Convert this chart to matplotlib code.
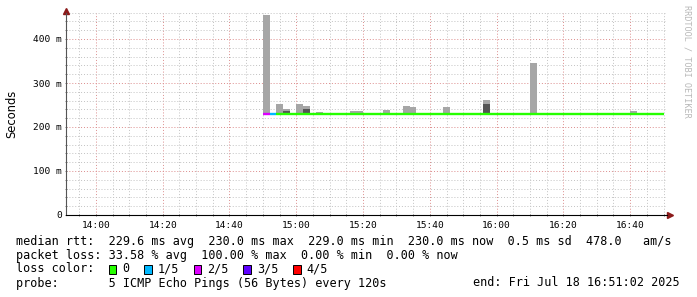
import matplotlib
matplotlib.use("Agg")
import matplotlib.pyplot as plt
import matplotlib.dates as mdates
from matplotlib.patches import Rectangle
import pandas as pd

# smokeping: 2 minute steps, 14:50 .. 16:50
times = pd.date_range("2025-07-18 14:50", periods=60, freq="2min")

median_ms = [230, 230, 230, 230, 230, 230, 230, 229, 229, 229,
             230, 230, 229, 230, 230, 230, 230, 229, 230, 229,
             229, 230, 230, 229, 230, 229, 230, 230, 229, 229,
             230, 230, 230, 230, 229, 229, 230, 229, 229, 229,
             230, 230, 229, 229, 230, 229, 230, 230, 229, 229,
             230, 229, 229, 230, 229, 230, 230, 230, 230, 230]

# lost pings out of 5
loss = [2, 1] + [0] * 58

# smoke (upper ping values) for the bins that have any above the median
smoke_max_ms = {0: 454, 2: 252, 3: 241, 5: 252, 6: 248, 8: 234, 13: 236, 14: 236,
                18: 238, 21: 248, 22: 245, 27: 245, 33: 261, 40: 345, 55: 236}
smoke_dark_ms = {3: 236, 6: 241, 33: 252}

loss_labels = ["0", "1/5", "2/5", "3/5", "4/5"]
loss_colors = ["#26ff00", "#00b8ff", "#dd00ff", "#5e00ff", "#ff0000"]

y_ticks = [0, 0.1, 0.2, 0.3, 0.4]
y_labels = ["0", "100 m", "200 m", "300 m", "400 m"]

legend_lines = [
    "median rtt:  229.6 ms avg  230.0 ms max  229.0 ms min  230.0 ms now  0.5 ms sd  478.0   am/s",
    "packet loss: 33.58 % avg  100.00 % max  0.00 % min  0.00 % now",
]
probe_text = "probe:       5 ICMP Echo Pings (56 Bytes) every 120s"
end_text = "end: Fri Jul 18 16:51:02 2025"

W, H = 697, 297
fig = plt.figure(figsize=(W / 100, H / 100), dpi=100)
ax = fig.add_axes([66 / W, (H - 215) / H, 601 / W, (215 - 12.6) / H])

step = pd.Timedelta("2min")
width = 2 / 1440

# smoke
for i, t in enumerate(times):
    m = median_ms[i] / 1000
    if i in smoke_max_ms:
        ax.bar(t, smoke_max_ms[i] / 1000 - m, bottom=m, width=width,
               align="edge", color="#a6a6a6", linewidth=0, zorder=3)
    if i in smoke_dark_ms:
        ax.bar(t, smoke_dark_ms[i] / 1000 - m, bottom=m, width=width,
               align="edge", color="#555555", linewidth=0, zorder=4)

# median line coloured by loss
ax.hlines([v / 1000 for v in median_ms], times, times + step,
          colors=[loss_colors[l] for l in loss], linewidth=1.7, zorder=5)

start = pd.Timestamp("2025-07-18 13:51:02")
end = pd.Timestamp("2025-07-18 16:51:02")
ax.set_xlim(start, end)
ax.set_ylim(0, 0.46)

ax.xaxis.set_major_locator(mdates.MinuteLocator(byminute=[0, 20, 40]))
ax.xaxis.set_minor_locator(mdates.MinuteLocator(byminute=range(0, 60, 5)))
ax.xaxis.set_major_formatter(mdates.DateFormatter("%H:%M"))
ax.set_yticks(y_ticks)
ax.set_yticklabels(y_labels)
ax.set_yticks([i * 0.02 for i in range(24)], minor=True)

ax.grid(which="minor", color="#c2c2c2", linestyle=(0, (1, 2)), linewidth=0.7)
ax.grid(which="major", color="#dc8c8c", linestyle=(0, (1, 2)), linewidth=0.7)
ax.set_axisbelow(True)

for lab in ax.get_xticklabels() + ax.get_yticklabels():
    lab.set_family("DejaVu Sans Mono")
    lab.set_fontsize(6.8)
ax.tick_params(which="both", length=2, width=0.6, direction="inout",
               colors="#666666", labelcolor="black", pad=2)
ax.tick_params(axis="x", which="major", pad=3)

for s in ["top", "right"]:
    ax.spines[s].set_visible(False)
ax.spines["left"].set_color("#555555")
ax.spines["left"].set_linewidth(0.8)
ax.spines["bottom"].set_color("black")
ax.spines["bottom"].set_linewidth(0.8)
ax.set_facecolor("white")

# axis arrows
ax.plot([1.005], [0], marker=">", markersize=4, color="#8b1a1a",
        transform=ax.transAxes, clip_on=False)
ax.plot([0], [1.01], marker="^", markersize=4, color="#8b1a1a",
        transform=ax.transAxes, clip_on=False)

ax.set_ylabel("Seconds", fontsize=8.3, labelpad=11)

fig.text(687 / W, 1 - 5 / H, "RRDTOOL / TOBI OETIKER", rotation=270,
         ha="center", va="top", family="DejaVu Sans Mono", fontsize=6.1,
         color="#b8b8b8")

# legend
cw = 7.09
x0 = 16
ys = [241, 255, 269, 283]
tk = dict(family="DejaVu Sans Mono", fontsize=8.45, va="center", ha="left")
for y, line in zip(ys[:2], legend_lines):
    fig.text(x0 / W, 1 - y / H, line, **tk)

fig.text(x0 / W, 1 - ys[2] / H, "loss color:", **tk)
box_cols = [13, 18, 25, 32, 39]
for c, lab, col in zip(box_cols, loss_labels, loss_colors):
    bx = x0 + c * cw + 0.5
    fig.patches.append(Rectangle((bx / W, 1 - (ys[2] + 4.5) / H), 7.5 / W, 8.5 / H,
                                 transform=fig.transFigure, facecolor=col,
                                 edgecolor="black", linewidth=0.7))
    fig.text((x0 + (c + 2) * cw) / W, 1 - ys[2] / H, lab, **tk)

fig.text(x0 / W, 1 - ys[3] / H, probe_text, **tk)
fig.text(680 / W, 1 - ys[3] / H, end_text, family="DejaVu Sans Mono",
         fontsize=8.45, va="center", ha="right")

fig.savefig("out.png", dpi=100, facecolor="white")
